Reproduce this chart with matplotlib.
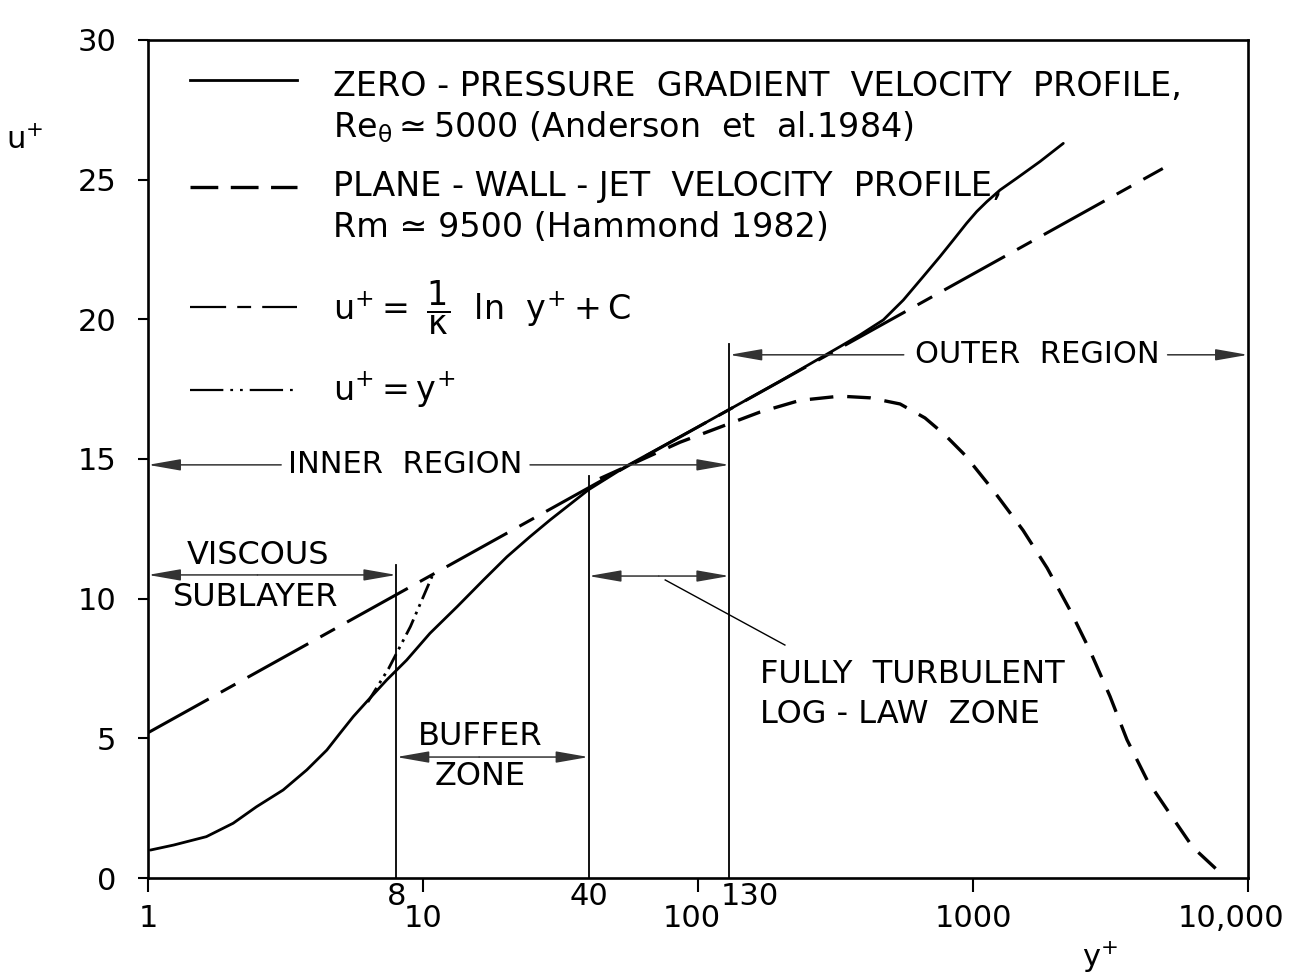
import matplotlib
matplotlib.use("Agg")
import matplotlib.pyplot as plt
import matplotlib.transforms as mtransforms

plt.rcParams['font.family'] = ['DejaVu Sans']
plt.rcParams['mathtext.fontset'] = 'custom'
plt.rcParams['mathtext.rm'] = 'DejaVu Sans'
plt.rcParams['mathtext.it'] = 'DejaVu Sans'
plt.rcParams['lines.scale_dashes'] = False

# zero-pressure-gradient boundary layer (Anderson et al. 1984)
yplus_zpg = [1.02, 1.24, 1.63, 2.04, 2.48, 3.10, 3.78, 4.47, 4.99, 5.58, 6.24, 7.38,
             8.72, 10.6, 13.3, 16.6, 20.2, 24.5, 29.0, 40, 55, 100, 200, 328, 388,
             472, 558, 659, 759, 848, 948, 1032, 1122, 1254, 1442, 1753, 2130]
uplus_zpg = [1.0, 1.18, 1.48, 1.96, 2.55, 3.15, 3.87, 4.58, 5.18, 5.78, 6.31, 7.09,
             7.80, 8.76, 9.71, 10.67, 11.5, 12.22, 12.82, 13.9, 14.75, 16.15, 17.8,
             19.02, 19.44, 19.98, 20.69, 21.53, 22.25, 22.84, 23.44, 23.86, 24.21,
             24.63, 25.05, 25.65, 26.3]

# plane wall jet (Hammond 1982)
yplus_jet = [44, 86, 168, 235, 328, 422, 543, 669, 791, 935, 1180, 1520, 1860, 2250,
             2660, 3150, 3630, 4300, 5200, 6300, 8100]
uplus_jet = [14.3, 15.6, 16.68, 17.1, 17.25, 17.19, 16.97, 16.47, 15.86, 15.14, 13.9,
             12.45, 11.1, 9.6, 8.15, 6.5, 4.95, 3.5, 2.3, 1.1, 0.1]

# log law, straight on semi-log axes
yplus_log = [1, 4900]
uplus_log = [5.2, 25.4]

# linear sublayer u+ = y+
yplus_lin = [6.3, 7.5, 9.0, 10.9]
uplus_lin = [6.3, 7.5, 9.0, 10.9]

# region boundaries
bounds = [8, 40, 130]
bound_tops = [11.2, 14.4, 19.1]

major_ticks = [1, 10, 100, 1000, 10000]
major_labels = ['1', '10', '100', '1000', '10,000']
yticks = [0, 5, 10, 15, 20, 25, 30]

FS = 22     # tick labels
FA = 23     # region labels
FK = 24     # key text

fig = plt.figure(figsize=(12.92, 9.8), dpi=100)
ax = fig.add_axes([148 / 1292, 102 / 980, 1100 / 1292, 838 / 980])
ax.set_xscale('log')
ax.set_xlim(1, 10000)
ax.set_ylim(0, 30)

for s in ax.spines.values():
    s.set_linewidth(1.9)

ax.set_yticks(yticks)
ax.set_yticklabels([str(v) for v in yticks], fontsize=FS)
ax.tick_params(axis='y', direction='out', length=7, width=1.5, pad=16)

ax.set_xticks(major_ticks)
ax.set_xticklabels(major_labels, fontsize=FS)
ax.set_xticks(bounds, minor=True)
ax.set_xticklabels([str(b) for b in bounds], minor=True, fontsize=FS)
ax.tick_params(axis='x', which='major', direction='out', length=10, width=1.5, pad=9)
ax.tick_params(axis='x', which='minor', length=0, pad=3)


def nudge(label, dx_in):
    label.set_transform(label.get_transform() +
                        mtransforms.ScaledTranslation(dx_in, 0, fig.dpi_scale_trans))


# keep "10,000" inside the figure, keep "100" and "130" apart
nudge(ax.get_xticklabels()[-1], -0.17)
nudge(ax.get_xticklabels()[2], -0.06)
nudge(ax.get_xticklabels(minor=True)[-1], 0.20)

# curves
ax.plot(yplus_zpg, uplus_zpg, color='black', lw=2.0, solid_capstyle='round')
ax.plot(yplus_jet, uplus_jet, color='black', lw=2.4, dashes=(17, 10))
ax.plot(yplus_log, uplus_log, color='black', lw=2.2, dashes=(50, 10, 12, 10))
ax.plot(yplus_lin, uplus_lin, color='black', lw=2.0, dashes=(12, 4, 2, 4, 2, 4))

# region boundaries
for b, top in zip(bounds, bound_tops):
    ax.plot([b, b], [0, top], color='black', lw=1.3)

arrow_kw = dict(arrowstyle='-|>,head_length=2.0,head_width=0.35',
                color='#333333', lw=1.1, shrinkA=0, shrinkB=0)


def arrow(x0, x1, y):
    ax.annotate('', xy=(x1, y), xytext=(x0, y), arrowprops=arrow_kw)


# inner region
arrow(3.05, 1, 14.79)
arrow(24.5, 130, 14.79)
ax.text(8.6, 14.79, 'INNER  REGION', fontsize=22, ha='center', va='center')

# outer region
arrow(560, 130, 18.73)
arrow(5100, 10000, 18.73)
ax.text(1710, 18.73, 'OUTER  REGION', fontsize=22, ha='center', va='center')

# viscous sublayer
arrow(2.5, 1, 10.85)
arrow(2.5, 8, 10.85)
ax.text(2.51, 11.55, 'VISCOUS', fontsize=FA, ha='center', va='center')
ax.text(2.47, 10.03, 'SUBLAYER', fontsize=FA, ha='center', va='center')

# buffer zone
arrow(16, 8, 4.33)
arrow(16, 40, 4.33)
ax.text(16.1, 5.05, 'BUFFER', fontsize=FA, ha='center', va='center')
ax.text(16.1, 3.62, 'ZONE', fontsize=FA, ha='center', va='center')

# log-law zone
arrow(72, 40, 10.81)
arrow(72, 130, 10.81)
ax.plot([76, 207], [10.67, 8.34], color='black', lw=1.0)
ax.text(168, 7.27, 'FULLY  TURBULENT', fontsize=FA, ha='left', va='center')
ax.text(168, 5.84, 'LOG - LAW  ZONE', fontsize=FA, ha='left', va='center')

# key
tr = ax.transAxes
kx0, kx1, tx = 0.038, 0.135, 0.168
ax.plot([kx0, kx1], [0.952, 0.952], transform=tr, color='black', lw=2.0)
ax.text(tx, 0.944, 'ZERO - PRESSURE  GRADIENT  VELOCITY  PROFILE,', transform=tr,
        fontsize=FK, va='center')
ax.text(tx, 0.896, r'Re$_{\theta}$$\simeq$5000 (Anderson  et  al.1984)', transform=tr,
        fontsize=FK, va='center')
ax.plot([kx0, kx1], [0.8246, 0.8246], transform=tr, color='black', lw=2.4,
        dashes=(20, 9))
ax.text(tx, 0.8246, 'PLANE - WALL - JET  VELOCITY  PROFILE,', transform=tr,
        fontsize=FK, va='center')
ax.text(tx, 0.7757, 'Rm ≃ 9500 (Hammond 1982)', transform=tr,
        fontsize=FK, va='center')
ax.plot([kx0, kx1], [0.681, 0.681], transform=tr, color='black', lw=1.6,
        dashes=(26, 8, 10, 8))
ax.text(tx, 0.681, r'$\mathrm{u}^{+}=\ \dfrac{1}{\kappa}\ \ \mathrm{ln}\ \ \mathrm{y}^{+}+\mathrm{C}$',
        transform=tr, fontsize=FK, va='center')
ax.plot([kx0, kx1], [0.582, 0.582], transform=tr, color='black', lw=1.6,
        dashes=(24, 5, 2, 5, 2, 5))
ax.text(tx, 0.582, r'$\mathrm{u}^{+}=\mathrm{y}^{+}$', transform=tr,
        fontsize=FK, va='center')

# axis names
fig.text(25 / 1292, 1 - 140 / 980, r'$\mathrm{u}^{+}$', fontsize=FS, ha='center', va='center')
fig.text(1100 / 1292, 1 - 957 / 980, r'$\mathrm{y}^{+}$', fontsize=FS, ha='center', va='center')

fig.savefig('out.png', dpi=100, facecolor='white')
